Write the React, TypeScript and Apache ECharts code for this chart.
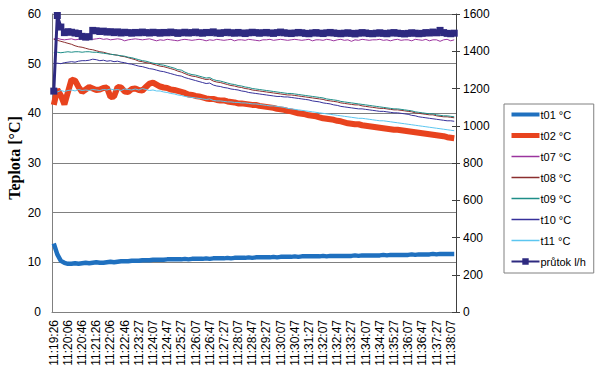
import React, { useEffect, useRef } from "react";
import * as echarts from "echarts";

const tickLabels = [
  "11:19:26", "11:20:06", "11:20:46", "11:21:26", "11:22:06", "11:22:46", "11:23:27", "11:24:07",
  "11:24:47", "11:25:27", "11:26:07", "11:26:47", "11:27:27", "11:28:07", "11:28:47", "11:29:27",
  "11:30:07", "11:30:47", "11:31:27", "11:32:07", "11:32:47", "11:33:27", "11:34:07", "11:34:47",
  "11:35:27", "11:36:07", "11:36:47", "11:37:27", "11:38:07",
];

const t01 = [
  13.8, 11.6, 10.3, 9.9, 9.7, 9.7, 9.8, 9.7, 9.8, 9.9,
  9.8, 9.9, 10.0, 9.9, 9.9, 10.0, 10.1, 10.0, 10.1, 10.2,
  10.2, 10.2, 10.3, 10.3, 10.3, 10.4, 10.4, 10.4, 10.5, 10.5,
  10.5, 10.5, 10.6, 10.6, 10.6, 10.6, 10.6, 10.7, 10.6, 10.7,
  10.7, 10.7, 10.7, 10.8, 10.7, 10.8, 10.8, 10.8, 10.8, 10.9,
  10.8, 10.9, 10.9, 10.9, 10.9, 11.0, 10.9, 11.0, 11.0, 11.0,
  11.0, 11.0, 11.1, 11.0, 11.1, 11.1, 11.1, 11.1, 11.2, 11.1,
  11.2, 11.2, 11.2, 11.2, 11.2, 11.2, 11.3, 11.2, 11.3, 11.3,
  11.3, 11.3, 11.3, 11.3, 11.3, 11.4, 11.3, 11.4, 11.4, 11.4,
  11.4, 11.4, 11.4, 11.5, 11.4, 11.5, 11.5, 11.5, 11.5, 11.5,
  11.5, 11.6, 11.5, 11.6, 11.6, 11.6, 11.6, 11.7, 11.6, 11.7,
  11.7, 11.7, 11.7, 11.7,
];

const t02 = [
  41.7, 44.8, 43.6, 41.8, 44.3, 46.8, 46.6, 45.3, 44.3, 44.8,
  45.3, 45.0, 44.7, 44.8, 45.1, 45.2, 43.3, 43.4, 45.3, 45.2,
  44.4, 44.3, 44.9, 45.0, 44.7, 44.6, 45.3, 46.0, 46.2, 45.8,
  45.4, 45.2, 45.1, 44.8, 44.7, 44.5, 44.3, 44.1, 43.8, 43.7,
  43.5, 43.4, 43.2, 43.0, 42.9, 42.9, 42.7, 42.6, 42.6, 42.4,
  42.3, 42.2, 42.0, 42.0, 41.9, 41.8, 41.7, 41.7, 41.5, 41.4,
  41.3, 41.2, 41.1, 40.9, 40.8, 40.7, 40.5, 40.4, 40.2, 40.0,
  39.9, 39.8, 39.6, 39.5, 39.4, 39.2, 39.0, 38.9, 38.8, 38.7,
  38.5, 38.4, 38.2, 38.0, 37.9, 37.8, 37.8, 37.6, 37.5, 37.4,
  37.3, 37.2, 37.1, 37.0, 36.9, 36.8, 36.7, 36.7, 36.6, 36.5,
  36.4, 36.3, 36.2, 36.1, 36.0, 35.9, 35.8, 35.7, 35.6, 35.5,
  35.4, 35.2, 35.1, 35.0,
];

const t07 = [
  55.0, 55.1, 54.9, 54.8, 54.9, 55.0, 54.8, 54.9, 55.0, 55.1,
  55.0, 54.9, 55.0, 55.1, 54.9, 55.0, 54.8, 54.9, 55.0, 54.9,
  54.6, 54.8, 54.9, 55.0, 54.9, 54.8, 54.9, 55.0, 54.8, 54.6,
  54.8, 54.7, 54.9, 54.8, 54.7, 54.6, 54.8, 54.9, 54.8, 54.7,
  54.8, 54.9, 54.8, 54.6, 54.8, 54.7, 54.9, 54.8, 54.7, 54.8,
  54.9, 54.6, 54.8, 54.8, 54.7, 54.9, 54.8, 54.7, 54.6, 54.8,
  54.8, 54.9, 54.7, 54.8, 54.9, 54.8, 54.7, 54.8, 54.9, 54.8,
  54.7, 54.8, 54.9, 54.6, 54.8, 54.8, 54.7, 54.9, 54.8, 54.6,
  54.8, 54.9, 54.7, 54.8, 54.5, 54.8, 54.7, 54.9, 54.8, 54.7,
  54.8, 54.8, 54.9, 54.7, 54.8, 54.6, 54.8, 54.9, 54.7, 54.8,
  54.8, 54.6, 54.9, 54.8, 54.7, 54.9, 54.6, 54.8, 54.8, 54.5,
  54.8, 54.9, 54.6, 54.8,
];

const t08 = [
  54.9, 54.7, 54.5, 54.3, 54.1, 53.9, 53.6, 53.4, 53.3, 53.1,
  52.9, 52.8, 52.6, 52.4, 52.3, 52.1, 51.9, 51.8, 51.7, 51.5,
  51.4, 51.2, 51.0, 50.8, 50.5, 50.4, 50.2, 50.1, 49.9, 49.7,
  49.5, 49.4, 49.2, 49.0, 48.8, 48.5, 48.3, 48.0, 47.7, 47.5,
  47.4, 47.2, 47.0, 46.8, 46.9, 46.5, 46.3, 46.2, 46.0, 45.8,
  45.6, 45.5, 45.3, 45.2, 45.0, 44.9, 44.7, 44.6, 44.5, 44.4,
  44.3, 44.2, 44.1, 44.0, 43.9, 43.8, 43.7, 43.7, 43.6, 43.5,
  43.4, 43.3, 43.2, 43.1, 43.0, 42.9, 42.8, 42.6, 42.5, 42.4,
  42.3, 42.1, 42.0, 41.9, 41.8, 41.7, 41.7, 41.5, 41.4, 41.3,
  41.2, 41.1, 41.0, 41.0, 40.9, 40.8, 40.7, 40.7, 40.6, 40.5,
  40.4, 40.3, 40.1, 40.0, 39.9, 39.8, 39.7, 39.7, 39.5, 39.4,
  39.3, 39.3, 39.2, 39.1,
];

const t09 = [
  52.2, 52.3, 52.2, 52.3, 52.4, 52.3, 52.4, 52.4, 52.3, 52.4,
  52.4, 52.3, 52.3, 52.2, 52.1, 52.0, 51.9, 51.8, 51.7, 51.6,
  51.5, 51.3, 51.2, 51.0, 50.8, 50.6, 50.5, 50.3, 50.1, 50.0,
  49.8, 49.7, 49.5, 49.3, 49.1, 48.8, 48.7, 48.3, 48.0, 47.8,
  47.7, 47.5, 47.3, 47.1, 47.2, 46.8, 46.6, 46.5, 46.3, 46.1,
  45.9, 45.8, 45.6, 45.5, 45.3, 45.2, 45.0, 44.9, 44.8, 44.7,
  44.6, 44.5, 44.4, 44.3, 44.2, 44.1, 44.0, 44.0, 43.9, 43.8,
  43.7, 43.6, 43.5, 43.4, 43.3, 43.2, 43.1, 42.9, 42.8, 42.7,
  42.6, 42.4, 42.3, 42.2, 42.1, 42.0, 41.9, 41.8, 41.7, 41.6,
  41.5, 41.4, 41.3, 41.2, 41.1, 41.0, 40.9, 40.9, 40.8, 40.7,
  40.6, 40.5, 40.3, 40.2, 40.1, 40.0, 39.9, 39.9, 39.7, 39.6,
  39.5, 39.5, 39.4, 39.3,
];

const t10 = [
  50.0, 50.1, 50.0, 50.2, 50.3, 50.4, 50.3, 50.5, 50.6, 50.6,
  50.7, 50.9, 50.8, 50.6, 50.7, 50.5, 50.6, 50.4, 50.5, 50.3,
  50.2, 50.0, 49.9, 49.7, 49.5, 49.4, 49.2, 49.0, 48.9, 48.7,
  48.5, 48.4, 48.2, 48.0, 47.8, 47.6, 47.5, 47.2, 47.0, 46.8,
  46.6, 46.4, 46.2, 46.0, 46.1, 45.7, 45.5, 45.4, 45.2, 45.1,
  44.9, 44.8, 44.7, 44.5, 44.4, 44.2, 44.1, 44.0, 43.9, 43.8,
  43.7, 43.6, 43.5, 43.4, 43.4, 43.3, 43.3, 43.2, 43.1, 43.0,
  42.9, 42.8, 42.7, 42.5, 42.4, 42.3, 42.1, 42.0, 41.9, 41.7,
  41.6, 41.4, 41.3, 41.2, 41.1, 41.0, 40.9, 40.9, 40.8, 40.7,
  40.6, 40.5, 40.4, 40.4, 40.3, 40.2, 40.1, 40.1, 40.0, 39.9,
  39.8, 39.6, 39.5, 39.3, 39.2, 39.1, 39.0, 38.9, 38.8, 38.7,
  38.6, 38.5, 38.5, 38.4,
];

const t11 = [
  44.5, 44.3, 44.6, 44.4, 44.6, 44.7, 44.5, 44.8, 44.6, 44.7,
  44.6, 44.8, 44.7, 44.6, 44.8, 44.7, 44.9, 44.7, 44.8, 44.6,
  44.9, 44.8, 44.7, 44.9, 44.7, 45.0, 44.8, 44.6, 44.7, 44.5,
  44.5, 44.3, 44.2, 44.0, 43.9, 43.7, 43.6, 43.4, 43.3, 43.2,
  43.1, 43.0, 42.9, 42.8, 42.9, 42.6, 42.5, 42.5, 42.4, 42.3,
  42.3, 42.2, 42.2, 42.1, 42.1, 42.0, 41.9, 41.9, 41.8, 41.7,
  41.6, 41.5, 41.5, 41.4, 41.3, 41.2, 41.0, 40.9, 40.8, 40.7,
  40.6, 40.5, 40.4, 40.3, 40.2, 40.1, 40.0, 39.9, 39.8, 39.7,
  39.6, 39.5, 39.4, 39.3, 39.2, 39.1, 39.0, 39.0, 38.9, 38.8,
  38.7, 38.6, 38.5, 38.5, 38.4, 38.3, 38.2, 38.1, 38.0, 37.9,
  37.8, 37.7, 37.6, 37.5, 37.4, 37.3, 37.2, 37.1, 37.0, 36.9,
  36.8, 36.7, 36.6, 36.5,
];

const prutok = [
  1186, 1592, 1530, 1500, 1505, 1502, 1498, 1495, 1480, 1476,
  1478, 1512, 1510, 1506, 1508, 1503, 1505, 1500, 1504, 1498,
  1502, 1500, 1497, 1501, 1499, 1503, 1500, 1498, 1502, 1500,
  1497, 1501, 1499, 1503, 1500, 1496, 1499, 1502, 1498, 1500,
  1503, 1499, 1497, 1501, 1500, 1504, 1498, 1496, 1500, 1502,
  1499, 1497, 1501, 1498, 1495, 1499, 1502, 1500, 1497, 1499,
  1501, 1498, 1496, 1500, 1503, 1499, 1497, 1495, 1498, 1501,
  1499, 1496, 1494, 1498, 1500, 1497, 1495, 1499, 1501, 1498,
  1496, 1494, 1497, 1499, 1496, 1493, 1497, 1500, 1498, 1495,
  1494, 1497, 1499, 1496, 1494, 1498, 1500, 1497, 1495, 1493,
  1496, 1499, 1497, 1494, 1496, 1500, 1498, 1503, 1499, 1512,
  1500, 1496, 1494, 1497,
];

const tempNames = ["t01 °C", "t02 °C", "t07 °C", "t08 °C", "t09 °C", "t10 °C", "t11 °C"];
const flowName = "průtok l/h";

function addSeconds(t: string, s: number): string {
  const [h, m, sec] = t.split(":").map(Number);
  let total = h * 3600 + m * 60 + sec + s;
  const hh = Math.floor(total / 3600);
  total -= hh * 3600;
  const mm = Math.floor(total / 60);
  const ss = total - mm * 60;
  const p = (n: number) => (n < 10 ? "0" + n : String(n));
  return `${hh}:${p(mm)}:${p(ss)}`;
}

function buildCategories(): string[] {
  const cats: string[] = [];
  for (let k = 0; k < tickLabels.length; k++) {
    cats.push(tickLabels[k]);
    if (k < tickLabels.length - 1) {
      for (let j = 1; j < 4; j++) cats.push(addSeconds(tickLabels[k], j * 10));
    } else {
      cats.push(addSeconds(tickLabels[k], 10));
    }
  }
  return cats;
}

const FONT = "Liberation Sans, Arial, sans-serif";

export default function App() {
  const ref = useRef<HTMLDivElement>(null);
  useEffect(() => {
    if (!ref.current) return;
    const chart = echarts.init(ref.current, undefined, { renderer: "svg" });
    const categories = buildCategories();
    const tempLine = (name: string, data: number[], color: string, width: number) => ({
      name,
      type: "line",
      data,
      yAxisIndex: 0,
      symbol: "none",
      showSymbol: false,
      lineStyle: { color, width },
      itemStyle: { color },
    });
    const legendWidths = [4, 5, 1.5, 1.5, 1.5, 1.5, 1.5];
    chart.setOption({
      animation: false,
      backgroundColor: "#ffffff",
      grid: { left: 52, right: 144, top: 14, bottom: 66, containLabel: false },
      legend: {
        orient: "vertical",
        left: 504,
        top: 104,
        padding: [5, 8, 6, 5],
        itemWidth: 28,
        itemHeight: 8,
        itemGap: 10,
        borderColor: "#808080",
        borderWidth: 1,
        textStyle: { fontFamily: FONT, fontSize: 11, color: "#000", padding: [0, 0, 0, -4] },
        data: [
          ...tempNames.map((n, i) => ({
            name: n,
            itemStyle: { opacity: 0 },
            lineStyle: { width: legendWidths[i] },
          })),
          { name: flowName, lineStyle: { width: 2 } },
        ],
      },
      xAxis: {
        type: "category",
        data: categories,
        boundaryGap: true,
        axisLine: { lineStyle: { color: "#808080", width: 1 } },
        axisTick: { show: false },
        axisLabel: {
          interval: 3,
          rotate: 90,
          margin: 8,
          fontFamily: FONT,
          fontSize: 12,
          color: "#000",
        },
        splitLine: { show: false },
      },
      yAxis: [
        {
          type: "value",
          min: 0,
          max: 60,
          interval: 10,
          position: "left",
          axisLine: { show: true, lineStyle: { color: "#808080", width: 1 } },
          axisTick: { show: false },
          axisLabel: { margin: 11, fontFamily: FONT, fontSize: 12, color: "#000" },
          splitLine: { show: true, lineStyle: { color: "#808080", width: 1 } },
        },
        {
          type: "value",
          min: 0,
          max: 1600,
          interval: 200,
          position: "right",
          axisLine: { show: true, lineStyle: { color: "#404040", width: 1 } },
          axisTick: { show: true, length: 4, lineStyle: { color: "#404040" } },
          axisLabel: {
            margin: 7,
            fontFamily: FONT,
            fontSize: 12,
            color: "#000",
            formatter: (v: number) => String(v),
          },
          splitLine: { show: false },
        },
        {
          type: "value",
          min: 0,
          max: 1600,
          interval: 200,
          position: "right",
          axisLine: { show: false },
          axisTick: { show: true, inside: true, length: 4, lineStyle: { color: "#404040" } },
          axisLabel: { show: false },
          splitLine: { show: false },
        },
      ],
      graphic: [
        {
          type: "text",
          x: 14,
          y: 158,
          rotation: Math.PI / 2,
          style: {
            text: "Teplota [°C]",
            fontFamily: "Liberation Serif, Times New Roman, serif",
            fontWeight: "bold",
            fontSize: 16,
            fill: "#000",
            align: "center",
            verticalAlign: "middle",
          },
        },
      ],
      series: [
        tempLine(tempNames[0], t01, "#1F70BF", 4.5),
        tempLine(tempNames[1], t02, "#E8431E", 6),
        tempLine(tempNames[2], t07, "#9B349E", 1),
        tempLine(tempNames[3], t08, "#8B2E2E", 1),
        tempLine(tempNames[4], t09, "#1E8E88", 1),
        tempLine(tempNames[5], t10, "#36309A", 1),
        tempLine(tempNames[6], t11, "#5BC6F0", 1),
        {
          name: flowName,
          type: "line",
          data: prutok,
          yAxisIndex: 1,
          symbol: "rect",
          symbolSize: 7,
          showSymbol: true,
          showAllSymbol: true,
          lineStyle: { color: "#2E2A80", width: 3 },
          itemStyle: { color: "#2E2A80" },
        },
      ],
    });
    return () => chart.dispose();
  }, []);
  return (
    <div
      ref={ref}
      style={{ position: "absolute", left: 0, top: 0, width: 600, height: 378 }}
    />
  );
}
